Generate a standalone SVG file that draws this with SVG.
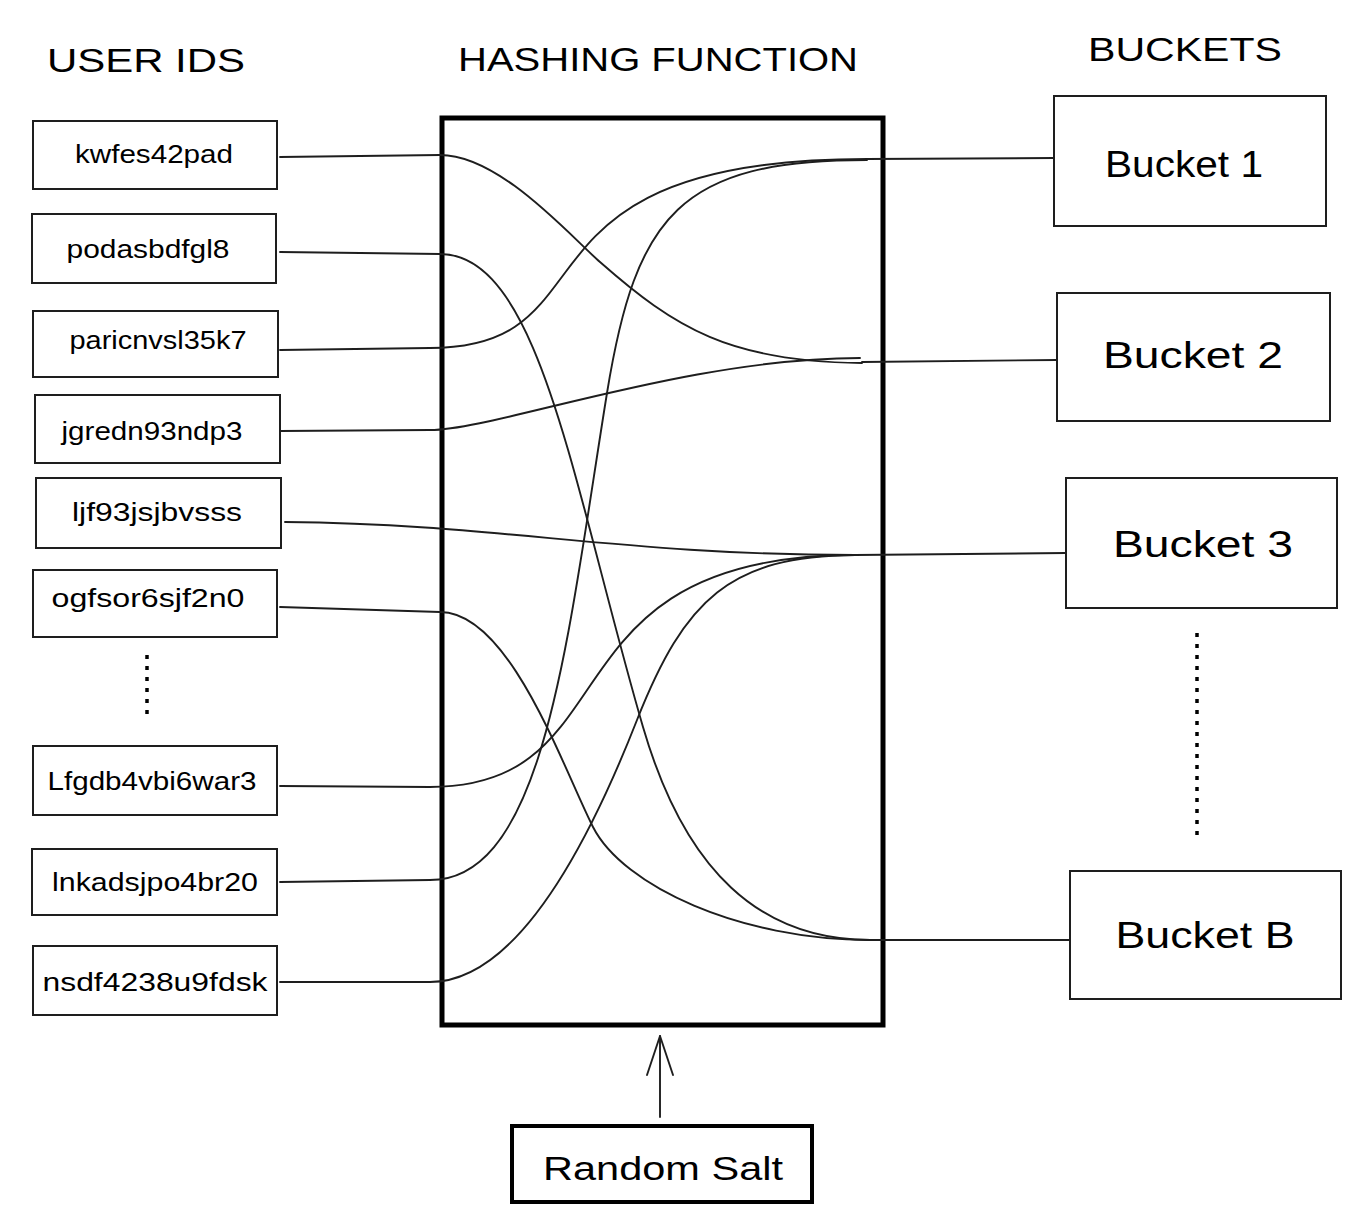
<svg xmlns="http://www.w3.org/2000/svg" width="1366" height="1220" viewBox="0 0 1366 1220">
  <defs>
    <style>
      .box { fill: #ffffff; stroke: #1e1e1e; stroke-width: 2; }
      .hash { fill: none; stroke: #000000; stroke-width: 5; }
      .salt { fill: #ffffff; stroke: #000000; stroke-width: 4; }
      .conn { fill: none; stroke: #1e1e1e; stroke-width: 1.9; stroke-linecap: round; stroke-linejoin: round; }
      .dots { fill: none; stroke: #000000; stroke-width: 3.5; stroke-dasharray: 4 7; }
      .title { font-family: "Liberation Sans", Arial, sans-serif; font-size: 34px; fill: #000000; text-anchor: middle; }
      .id { font-family: "Liberation Sans", Arial, sans-serif; font-size: 26px; fill: #000000; text-anchor: middle; }
      .bucket { font-family: "Liberation Sans", Arial, sans-serif; font-size: 36px; fill: #000000; text-anchor: middle; }
    </style>
    <marker id="open-arrow" viewBox="0 0 42 30" refX="40" refY="15" markerWidth="42" markerHeight="30" markerUnits="userSpaceOnUse" orient="auto">
      <path d="M1,2 L40,15 L1,28" fill="none" stroke="#1e1e1e" stroke-width="1.9" stroke-linecap="round" stroke-linejoin="round"/>
    </marker>
  </defs>
  <rect width="1366" height="1220" fill="#ffffff"/>

  <!-- Titles -->
  <text class="title" x="146" y="72" textLength="198" lengthAdjust="spacingAndGlyphs">USER IDS</text>
  <text class="title" x="658" y="71" textLength="400" lengthAdjust="spacingAndGlyphs">HASHING FUNCTION</text>
  <text class="title" x="1185" y="61" textLength="194" lengthAdjust="spacingAndGlyphs">BUCKETS</text>

  <!-- Hashing function box -->
  <g id="hashing-function">
    <rect class="hash" x="442" y="118" width="441" height="907"/>
  </g>

  <!-- Connectors -->
  <g id="connectors">
    <path class="conn" d="M280,157 L440,155 C500,155 570,236 600,262 C675,328 730,362 862,363"/>
    <path class="conn" d="M280,252 L440,254 C540,254 573,487 643,727 C685,871 760,940 870,940"/>
    <path class="conn" d="M280,350 L430,348 C620,348 494,159 867,159"/>
    <path class="conn" d="M280,431 L430,430 C495,430 686,358 860,358"/>
    <path class="conn" d="M285,522 C500,524 620,555 855,555"/>
    <path class="conn" d="M280,607 L440,612 C510,612 563,768 593,827 C623,886 740,940 870,940"/>
    <path class="conn" d="M280,786 L430,787 C635,787 537,555 855,555"/>
    <path class="conn" d="M280,882 L430,880 C545,880 567,640 607,393 C636,215 680,160 867,160"/>
    <path class="conn" d="M280,982 L430,982 C520,982 593,832 637,720 C685,599 730,556 855,555"/>
    <path class="conn" d="M867,159 L1054,158"/>
    <path class="conn" d="M862,362 L1057,360"/>
    <path class="conn" d="M855,555 L1066,553"/>
    <path class="conn" d="M870,940 L1070,940"/>
    <path class="conn" d="M660,1117 L660,1036" marker-end="url(#open-arrow)"/>
  </g>

  <!-- User IDs -->
  <g id="uid-kwfes42pad">
    <rect class="box" x="33" y="121" width="244" height="68"/>
    <text class="id" x="154" y="163" textLength="158" lengthAdjust="spacingAndGlyphs">kwfes42pad</text>
  </g>
  <g id="uid-podasbdfgl8">
    <rect class="box" x="32" y="214" width="244" height="69"/>
    <text class="id" x="148" y="258" textLength="163" lengthAdjust="spacingAndGlyphs">podasbdfgl8</text>
  </g>
  <g id="uid-paricnvsl35k7">
    <rect class="box" x="33" y="311" width="245" height="66"/>
    <text class="id" x="158" y="349" textLength="177" lengthAdjust="spacingAndGlyphs">paricnvsl35k7</text>
  </g>
  <g id="uid-jgredn93ndp3">
    <rect class="box" x="35" y="395" width="245" height="68"/>
    <text class="id" x="152" y="440" textLength="181" lengthAdjust="spacingAndGlyphs">jgredn93ndp3</text>
  </g>
  <g id="uid-ljf93jsjbvsss">
    <rect class="box" x="36" y="478" width="245" height="70"/>
    <text class="id" x="157" y="521" textLength="170" lengthAdjust="spacingAndGlyphs">ljf93jsjbvsss</text>
  </g>
  <g id="uid-ogfsor6sjf2n0">
    <rect class="box" x="33" y="570" width="244" height="67"/>
    <text class="id" x="148" y="607" textLength="193" lengthAdjust="spacingAndGlyphs">ogfsor6sjf2n0</text>
  </g>
  <path class="dots" d="M147,655 L147,721"/>
  <g id="uid-Lfgdb4vbi6war3">
    <rect class="box" x="33" y="746" width="244" height="69"/>
    <text class="id" x="152" y="790" textLength="209" lengthAdjust="spacingAndGlyphs">Lfgdb4vbi6war3</text>
  </g>
  <g id="uid-lnkadsjpo4br20">
    <rect class="box" x="32" y="849" width="245" height="66"/>
    <text class="id" x="155" y="891" textLength="206" lengthAdjust="spacingAndGlyphs">lnkadsjpo4br20</text>
  </g>
  <g id="uid-nsdf4238u9fdsk">
    <rect class="box" x="33" y="946" width="244" height="69"/>
    <text class="id" x="155" y="991" textLength="225" lengthAdjust="spacingAndGlyphs">nsdf4238u9fdsk</text>
  </g>

  <!-- Buckets -->
  <g id="bucket-1">
    <rect class="box" x="1054" y="96" width="272" height="130"/>
    <text class="bucket" x="1184" y="177" textLength="158" lengthAdjust="spacingAndGlyphs">Bucket 1</text>
  </g>
  <g id="bucket-2">
    <rect class="box" x="1057" y="293" width="273" height="128"/>
    <text class="bucket" x="1193" y="368" textLength="180" lengthAdjust="spacingAndGlyphs">Bucket 2</text>
  </g>
  <g id="bucket-3">
    <rect class="box" x="1066" y="478" width="271" height="130"/>
    <text class="bucket" x="1203" y="557" textLength="180" lengthAdjust="spacingAndGlyphs">Bucket 3</text>
  </g>
  <path class="dots" d="M1197,633 L1197,840"/>
  <g id="bucket-B">
    <rect class="box" x="1070" y="871" width="271" height="128"/>
    <text class="bucket" x="1205" y="948" textLength="179" lengthAdjust="spacingAndGlyphs">Bucket B</text>
  </g>

  <!-- Random salt -->
  <g id="random-salt">
    <rect class="salt" x="512" y="1126" width="300" height="76"/>
    <text class="title" x="663" y="1180" textLength="240" lengthAdjust="spacingAndGlyphs">Random Salt</text>
  </g>
</svg>
